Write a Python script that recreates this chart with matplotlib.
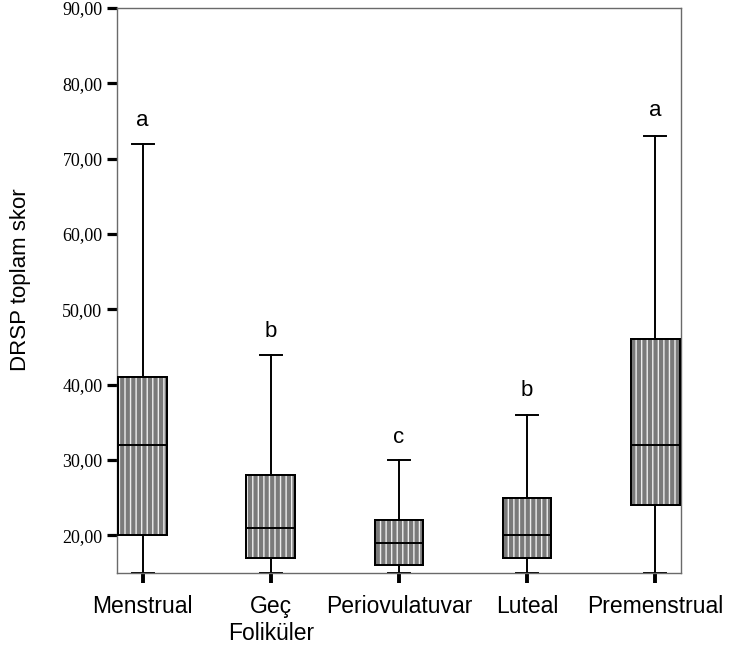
import matplotlib.pyplot as plt
from matplotlib.patches import PathPatch

phases = ['Menstrual', 'Geç\nFoliküler', 'Periovulatuvar', 'Luteal', 'Premenstrual']
whisk_low = [15, 15, 15, 15, 15]
q1 = [20, 17, 16, 17, 24]
medians = [32, 21, 19, 20, 32]
q3 = [41, 28, 22, 25, 46]
whisk_high = [72, 44, 30, 36, 73]
letters = ['a', 'b', 'c', 'b', 'a']
letter_y = [74.3, 46.3, 32.2, 38.5, 75.6]
y_ticks = [20, 30, 40, 50, 60, 70, 80, 90]

plt.rcParams['hatch.linewidth'] = 1.0

fig = plt.figure(figsize=(7.36, 6.56), dpi=100)
ax = fig.add_axes([0.159, 0.1265, 0.766, 0.8613])

stats = []
for i in range(len(phases)):
    stats.append({'whislo': whisk_low[i], 'q1': q1[i], 'med': medians[i],
                  'q3': q3[i], 'whishi': whisk_high[i], 'fliers': []})

pos = list(range(1, len(phases) + 1))
bp = ax.bxp(stats, positions=pos, widths=0.38, patch_artist=True,
            showfliers=False, capwidths=0.17,
            boxprops=dict(facecolor='#7a7a7a', edgecolor='black', linewidth=1.4),
            medianprops=dict(color='black', linewidth=1.4, zorder=4),
            whiskerprops=dict(color='black', linewidth=1.4),
            capprops=dict(color='black', linewidth=1.4))

# white vertical stripes inside the boxes, outline redrawn on top
for b in bp['boxes']:
    path = b.get_path()
    tr = b.get_transform()
    ax.add_patch(PathPatch(path, transform=tr, facecolor='none',
                           edgecolor='#eeeeee', hatch='|||', linewidth=0, zorder=2.5))
    ax.add_patch(PathPatch(path, transform=tr, facecolor='none',
                           edgecolor='black', linewidth=1.4, zorder=3))

for x, t, y in zip(pos, letters, letter_y):
    ax.text(x, y, t, ha='center', va='baseline', fontsize=16,
            family='Liberation Sans')

ax.set_xlim(0.8, 5.2)
ax.set_ylim(15, 90)
ax.set_yticks(y_ticks)
ax.set_yticklabels([f'{v:.2f}'.replace('.', ',') for v in y_ticks],
                   family='Liberation Serif', fontsize=13)
ax.set_xticks(pos)
ax.set_xticklabels(phases, family='Liberation Sans', fontsize=16.5, linespacing=1.25)
ax.tick_params(axis='y', direction='out', length=7.5, width=2.3, pad=3, color='black')
ax.tick_params(axis='x', direction='out', length=7.5, width=2.8, pad=8, color='black')

for s in ax.spines.values():
    s.set_color('#6a6a6a')
    s.set_linewidth(1.0)

ax.set_ylabel('DRSP toplam skor', family='Liberation Sans', fontsize=16)
ax.yaxis.set_label_coords(-0.152, 0.52)

fig.savefig('out.png', dpi=100)
